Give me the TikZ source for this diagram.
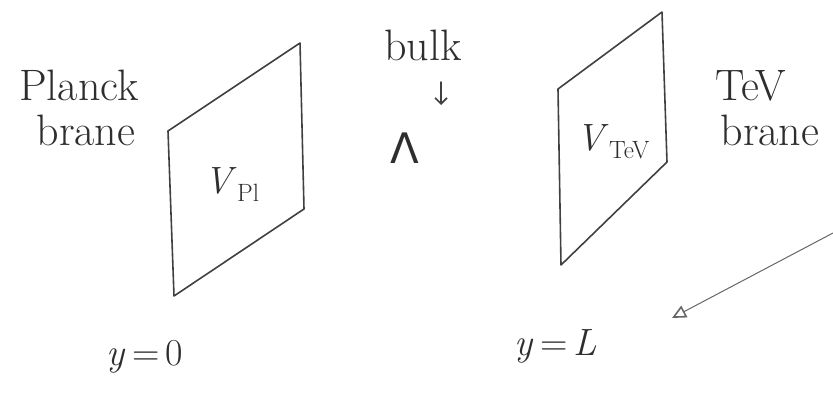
\documentclass[tikz,border=0pt]{standalone}
\usepackage{fontspec}
\newfontfamily\grk{DejaVu Sans}
\usetikzlibrary{arrows.meta}
\tikzset{
  pen/.style={draw=black!75, line width=1.6pt, line join=round, line cap=round},
  hand/.style={anchor=base, inner sep=0pt, text=black!82, font=\fontsize{44}{50}\selectfont},
  sub/.style={anchor=base, inner sep=0pt, text=black!82, font=\fontsize{38}{44}\selectfont}
}
\newcommand{\sbs}[1]{\raisebox{-0.22em}{\fontsize{25}{30}\selectfont #1}}
\begin{document}
\begin{tikzpicture}[x=1pt,y=-1pt]
\useasboundingbox (0,0) rectangle (833,399);
% Planck brane
\coordinate (p1) at (168,131);
\coordinate (p2) at (300,43);
\coordinate (p3) at (304,209);
\coordinate (p4) at (174,296);
\draw[pen] (p1) -- (p2) -- (p3) -- (p4) -- cycle;
% TeV brane
\coordinate (t1) at (558,89);
\coordinate (t2) at (662,12);
\coordinate (t3) at (667,162);
\coordinate (t4) at (561,265);
\draw[pen] (t1) -- (t2) -- (t3) -- (t4) -- cycle;
% labels
\node[hand] (planck) at (79,100) {Planck};
\node[hand] (lbrane) at (86,145) {brane};
\node[sub] (vpl) at (232,193) {\textit{V}\sbs{Pl}};
\node[hand] (bulk) at (423,60) {bulk};
\node[sub] (lam) at (405,163) {{\grk\fontsize{42}{46}\selectfont Λ}};
\node[sub] (vtev) at (613,150) {\textit{V}\sbs{TeV}};
\node[hand] (tev) at (751,100) {TeV};
\node[hand] (rbrane) at (770,145) {brane};
\node[sub] (y0) at (145,365) {\textit{y}\,=\,0};
\node[sub] (yL) at (556,355) {\textit{y}\,=\,\textit{L}};
% arrows
\coordinate (ba) at (441,82);
\coordinate (bb) at (441,105);
\draw[pen, -{Straight Barb[length=6pt,width=12pt]}] (ba) -- (bb);
\coordinate (la) at (833,233);
\coordinate (lb) at (672,318);
\draw[draw=black!60, line width=1pt, -{Triangle[open,length=14pt,width=13pt,line width=1.6pt]}] (la) -- (lb);
\end{tikzpicture}
\end{document}
